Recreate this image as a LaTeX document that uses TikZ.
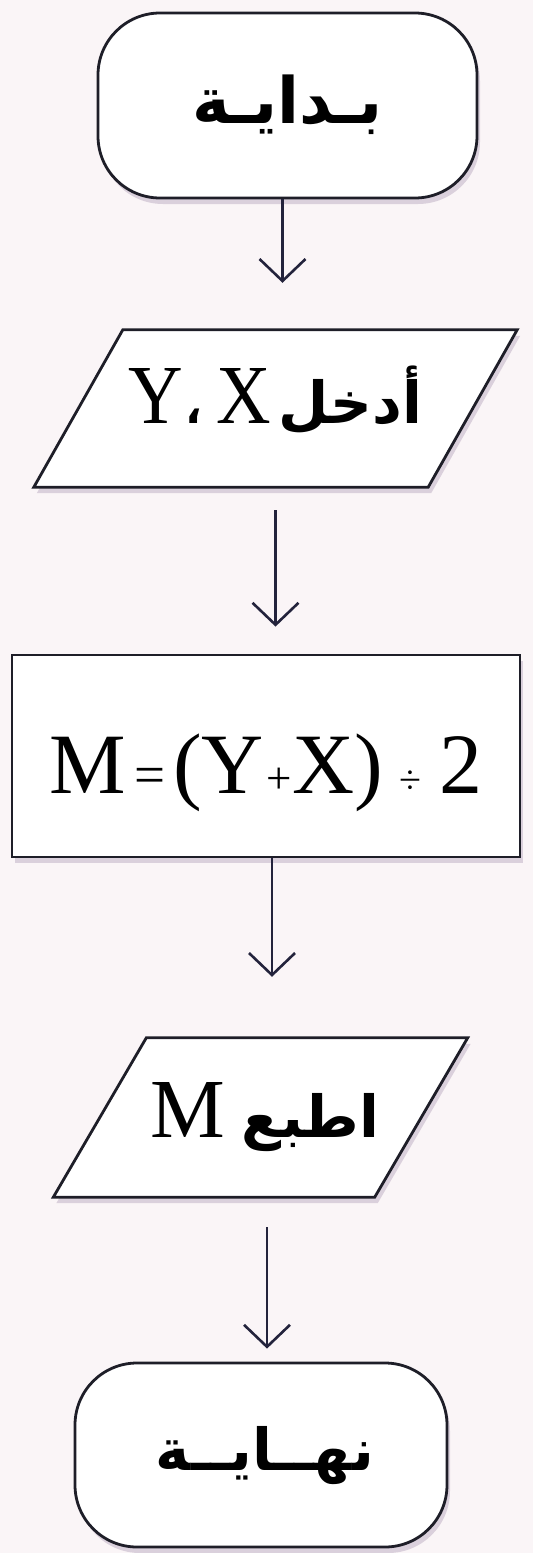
\documentclass[tikz,border=0pt]{standalone}
\usepackage{fontspec}
\setmainfont{Liberation Serif}
\newfontfamily\condserif{Liberation Serif}[FakeStretch=0.9]
\newfontfamily\arabicfont[Script=Arabic]{DejaVu Sans}
\TeXXeTstate=1
\usetikzlibrary{arrows.meta,shadows,calc}
\pgfdeclarelayer{bglayer}
\pgfdeclarelayer{shapelayer}
\pgfsetlayers{bglayer,shapelayer,main}

\definecolor{bgc}{RGB}{250,245,247}
\definecolor{ink}{RGB}{30,30,40}
\definecolor{arrowc}{RGB}{35,35,60}
\definecolor{shadowc}{RGB}{160,140,170}

\newcommand{\ar}[2][58]{{\arabicfont\bfseries\fontsize{#1}{#1}\selectfont\beginR #2\endR}}
\newcommand{\ltc}{\condserif\fontsize{84}{90}\selectfont}
\newcommand{\lt}{\rmfamily\fontsize{86}{90}\selectfont}
\newcommand{\op}[2]{{\fontsize{#1}{#1}\selectfont #2}}

\begin{document}
\begin{tikzpicture}[x=1pt,y=-1pt,
  shp/.style={draw=ink, line width=2.8pt, fill=white,
    drop shadow={shadow xshift=3pt, shadow yshift=-6pt, opacity=0.35, fill=shadowc}},
  term/.style={shp, rounded corners=62pt, inner sep=0pt},
  procbox/.style={shp, inner sep=0pt},
  paratext/.style={inner sep=0pt},
  arr/.style={draw=arrowc, line width=2.6pt,
    -{Straight Barb[length=22pt,width=46pt]}},
]
\begin{pgfonlayer}{bglayer}
\fill[bgc] (0,0) rectangle (533,1553);
\end{pgfonlayer}
\useasboundingbox (0,0) rectangle (533,1553);

% start
\node[term, minimum width=379pt, minimum height=185pt, text height=36pt, text depth=0pt]
  (start) at (287.5,105.5) {\ar[64]{بـدايـة}\hspace{24pt}};

% input parallelogram
\node[paratext, minimum width=394pt, minimum height=157pt, text height=29pt, text depth=0pt]
  (in) at (275.5,408.5)
  {\ltc Y\kern2pt{\arabicfont\bfseries\fontsize{44}{44}\selectfont ،}\hspace{14pt}X\hspace{8pt}\ar{أدخل}};
\begin{pgfonlayer}{shapelayer}
\draw[shp] ([xshift=44.5pt]in.north west) -- ([xshift=44.5pt]in.north east)
  -- ([xshift=-44.5pt]in.south east) -- ([xshift=-44.5pt]in.south west) -- cycle;
\end{pgfonlayer}

% process
\node[procbox, minimum width=508pt, minimum height=202pt, text height=74pt, text depth=0pt]
  (proc) at (266,756)
  {\lt M\hspace{8pt}\op{55}{=}\hspace{8pt}(Y\kern2pt\op{45}{+}\kern1pt X)\hspace{16pt}\op{40}{÷}\hspace{18pt}2};

% output parallelogram
\node[paratext, minimum width=321pt, minimum height=159pt, text height=39pt, text depth=0pt]
  (out) at (260.5,1117.5)
  {\hspace{9pt}\fontsize{84}{90}\selectfont M\hspace{16pt}\ar{اطبع}};
\begin{pgfonlayer}{shapelayer}
\draw[shp] ([xshift=46.5pt]out.north west) -- ([xshift=46.5pt]out.north east)
  -- ([xshift=-46.5pt]out.south east) -- ([xshift=-46.5pt]out.south west) -- cycle;
\end{pgfonlayer}

% end
\node[term, minimum width=372pt, minimum height=184pt, text height=30pt, text depth=0pt]
  (end) at (261,1455) {\hspace{8pt}\ar{نهــايــة}};

% arrows
\draw[arr, shorten >=47pt] ([xshift=-5pt]start.south) -- ([xshift=-5pt]start.south |- in.north);
\draw[arr, shorten <=23pt, shorten >=27pt] (in.south) -- (in.south |- proc.north);
\draw[arr, shorten >=61pt] ([xshift=6pt]proc.south) -- ([xshift=6pt]proc.south |- out.north);
\draw[arr, shorten <=30pt, shorten >=13pt] ([xshift=6.5pt]out.south) -- ([xshift=6.5pt]out.south |- end.north);
\end{tikzpicture}
\end{document}
